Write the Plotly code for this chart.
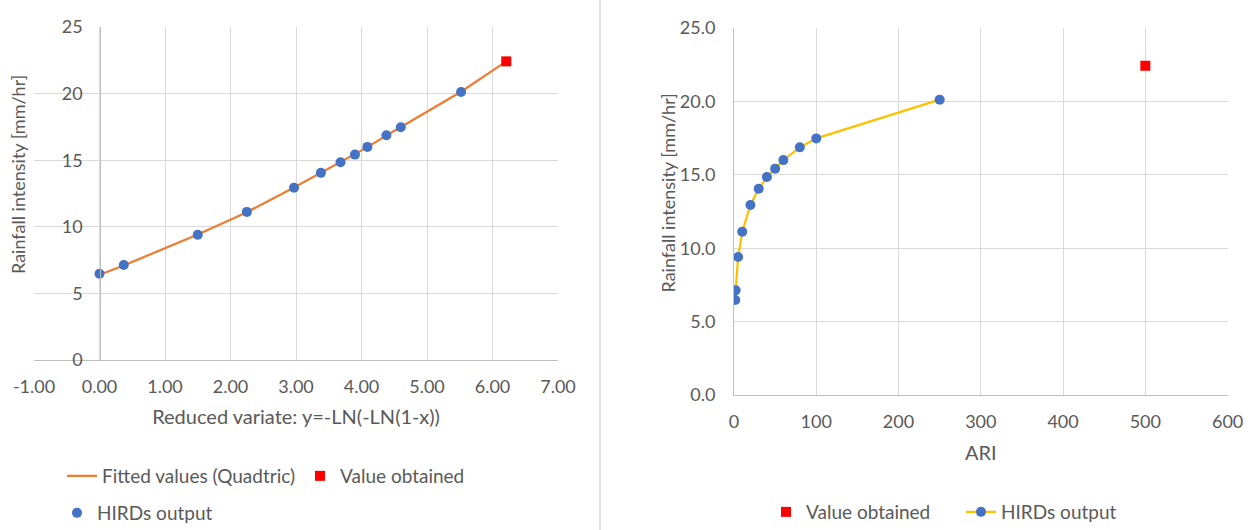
import plotly.graph_objects as go

# ---------------- data ----------------
ari = [1.58, 2, 5, 10, 20, 30, 40, 50, 60, 80, 100, 250]
reduced_variate = [0.00, 0.37, 1.50, 2.25, 2.97, 3.38, 3.68, 3.90, 4.09, 4.38, 4.60, 5.52]
hirds_intensity = [6.47, 7.13, 9.40, 11.12, 12.94, 14.05, 14.85, 15.42, 16.00, 16.87, 17.48, 20.12]

fitted_x = [0.00, 0.37, 1.50, 2.25, 2.97, 3.38, 3.68, 3.90, 4.09, 4.38, 4.60, 5.52, 6.21]
fitted_y = [6.40, 7.10, 9.42, 11.10, 12.95, 14.04, 14.85, 15.45, 15.98, 16.85, 17.48, 20.14, 22.42]

obtained_ari = [500]
obtained_rv = [6.21]
obtained_intensity = [22.42]

left_x_ticks = [-1, 0, 1, 2, 3, 4, 5, 6, 7]
left_x_labels = ["-1.00", "0.00", "1.00", "2.00", "3.00", "4.00", "5.00", "6.00", "7.00"]
left_y_ticks = [0, 5, 10, 15, 20, 25]
right_x_ticks = [0, 100, 200, 300, 400, 500, 600]
right_y_ticks = [0, 5, 10, 15, 20, 25]

y_title = "Rainfall intensity [mm/hr]"

# ---------------- layout helpers ----------------
W, H = 1253, 530
def fx(p):
    return p / W
def fy(p):
    return 1 - p / H

FONT = "Lato, Carlito, Calibri, sans-serif"
TXT = "#595959"
GRID = "#D9D9D9"
AXL = "#BFBFBF"
BLUE = "#4472C4"
ORANGE = "#ED7D31"
YELLOW = "#FFC000"
RED = "#FF0000"

fig = go.Figure()

# Left chart
fig.add_trace(go.Scatter(x=fitted_x, y=fitted_y, mode="lines", name="Fitted values (Quadtric)",
                         line=dict(color=ORANGE, width=2.25), xaxis="x", yaxis="y", legend="legend"))
fig.add_trace(go.Scatter(x=reduced_variate, y=hirds_intensity, mode="markers", name="HIRDs output",
                         marker=dict(color=BLUE, size=10, symbol="circle"), xaxis="x", yaxis="y", legend="legend3"))
fig.add_trace(go.Scatter(x=obtained_rv, y=obtained_intensity, mode="markers", name="Value obtained",
                         marker=dict(color=RED, size=10, symbol="square"), xaxis="x", yaxis="y", legend="legend2"))

# Right chart
fig.add_trace(go.Scatter(x=obtained_ari, y=obtained_intensity, mode="markers", name="Value obtained",
                         marker=dict(color=RED, size=10, symbol="square"), xaxis="x2", yaxis="y2", legend="legend4"))
fig.add_trace(go.Scatter(x=ari, y=hirds_intensity, mode="lines+markers", name="HIRDs output",
                         line=dict(color=YELLOW, width=2.25),
                         marker=dict(color=BLUE, size=10, symbol="circle"), xaxis="x2", yaxis="y2", legend="legend5"))

axis_common = dict(showgrid=True, gridcolor=GRID, gridwidth=1, zeroline=False,
                   showline=True, linecolor=AXL, linewidth=1,
                   ticks="outside", tickcolor="rgba(0,0,0,0)",
                   tickfont=dict(family=FONT, size=18, color=TXT))

def legend_at(xp, yp):
    return dict(x=fx(xp), y=fy(yp), xanchor="left", yanchor="middle", orientation="h",
                bgcolor="rgba(0,0,0,0)", font=dict(family=FONT, size=19, color=TXT))

fig.update_layout(
    width=W, height=H,
    margin=dict(l=0, r=0, t=0, b=0, autoexpand=False),
    paper_bgcolor="white", plot_bgcolor="white",
    showlegend=True,
    font=dict(family=FONT, size=18, color=TXT),
    xaxis=dict(**axis_common, domain=[fx(34), fx(558)], range=[-1, 7],
               tickvals=left_x_ticks, ticktext=left_x_labels, ticklen=10, anchor="y",
               title=dict(text="Reduced variate: y=-LN(-LN(1-x))", standoff=14,
                          font=dict(family=FONT, size=20, color=TXT))),
    yaxis=dict(**axis_common, domain=[fy(360), fy(27)], range=[0, 25],
               tickvals=left_y_ticks, ticklen=14, anchor="free", position=fx(100.3)),
    xaxis2=dict(**axis_common, domain=[fx(734), fx(1227.6)], range=[0, 600],
                tickvals=right_x_ticks, ticklen=10, anchor="y2",
                title=dict(text="ARI", standoff=15, font=dict(family=FONT, size=20, color=TXT))),
    yaxis2=dict(**axis_common, domain=[fy(395), fy(28)], range=[0, 25],
                tickvals=right_y_ticks, tickformat=".1f", ticklen=14, anchor="x2"),
    legend=legend_at(62, 476),
    legend2=legend_at(300, 476),
    legend3=legend_at(57, 513),
    legend4=legend_at(766, 512),
    legend5=legend_at(961, 512),
    annotations=[
        dict(text=y_title, xref="paper", yref="paper", x=fx(18), y=fy(175), textangle=-90,
             showarrow=False, xanchor="center", yanchor="middle",
             font=dict(family=FONT, size=18, color=TXT)),
        dict(text=y_title, xref="paper", yref="paper", x=fx(667), y=fy(192.5), textangle=-90,
             showarrow=False, xanchor="center", yanchor="middle",
             font=dict(family=FONT, size=18, color=TXT)),
    ],
    shapes=[dict(type="line", xref="paper", yref="paper", x0=fx(600), x1=fx(600), y0=0, y1=1,
                 line=dict(color="#D9D9D9", width=1.5))],
)

fig.write_html("out.html", config={"displayModeBar": False},
               post_script="document.body.style.margin='0';document.body.style.overflow='hidden';")
